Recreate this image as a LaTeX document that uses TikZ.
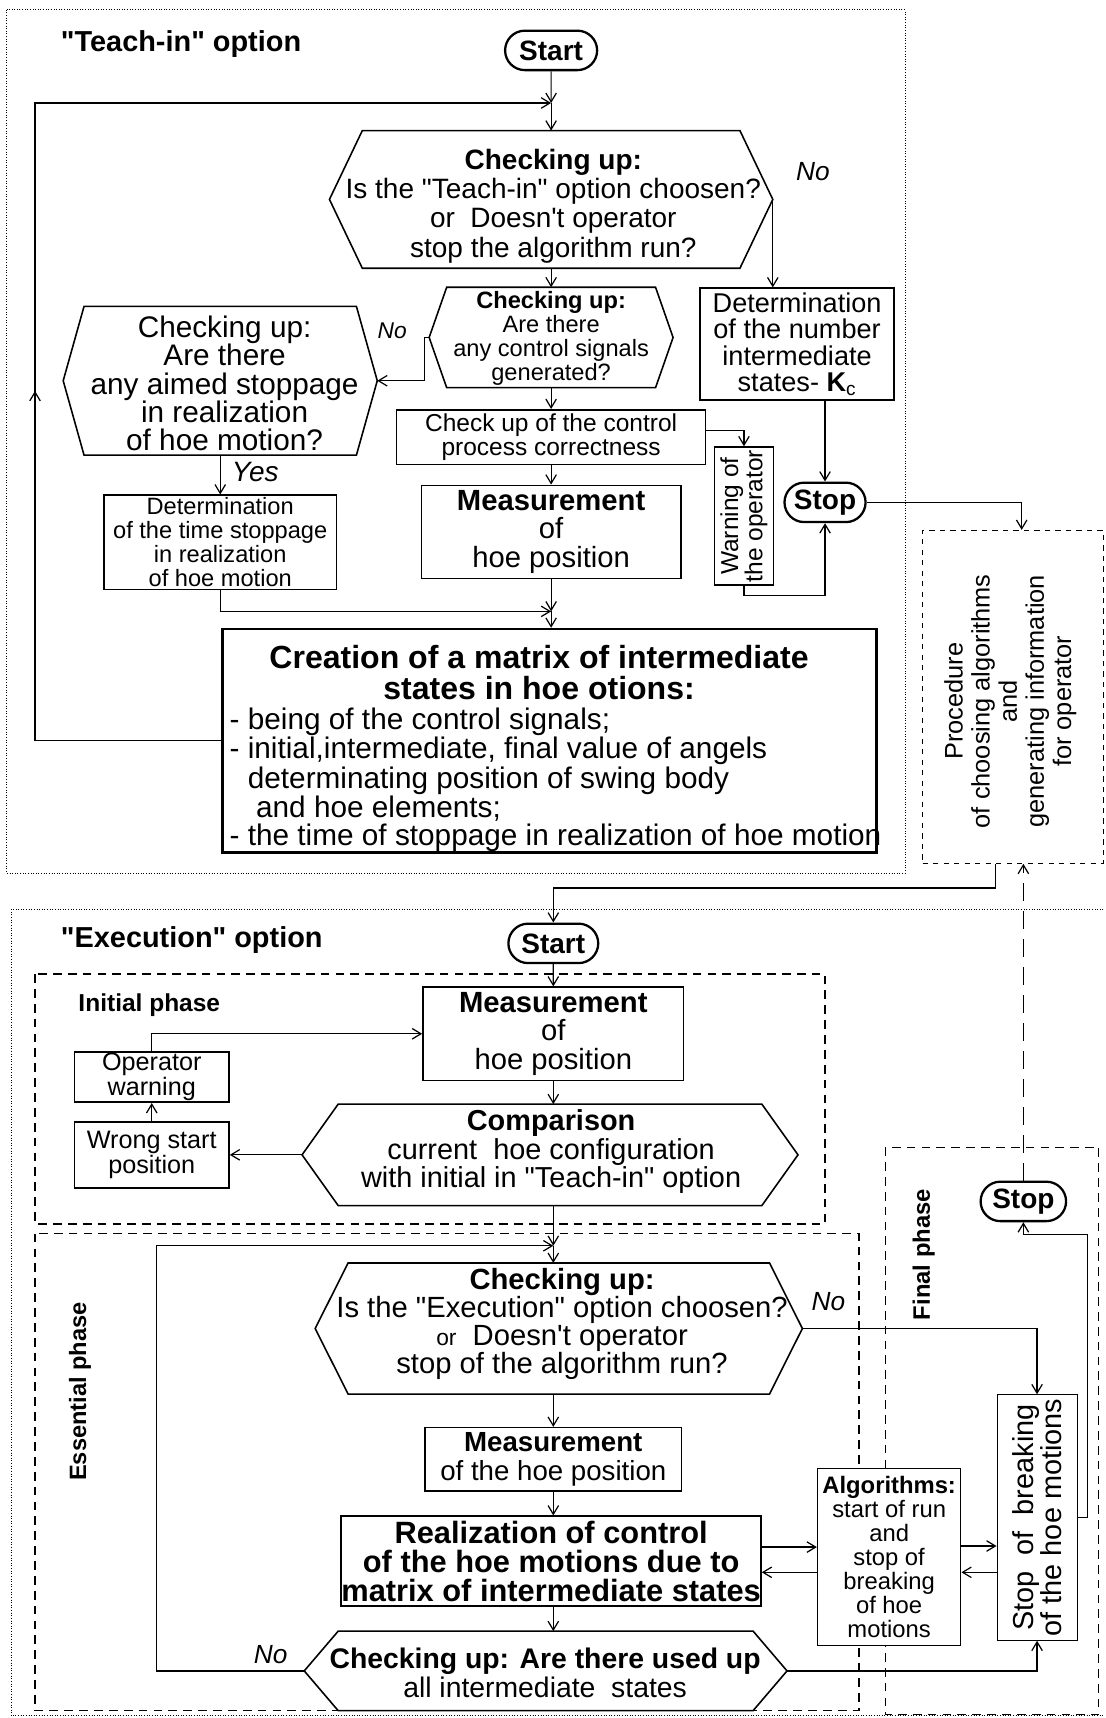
\documentclass[tikz,border=0pt]{standalone}
\usepackage{fontspec}
\setmainfont{Liberation Sans}
\usetikzlibrary{calc,arrows.meta,shapes.misc,decorations.markings}

\newcommand{\qq}{\textquotedbl}
\newcommand{\ap}{\textquotesingle}
% hexagon around a (text-less) frame node: #1 node, #2 tip length
\newcommand{\hexframe}[2]{%
  \draw[hexline] (#1.north west) -- (#1.north east) -- ($(#1.east)+(#2,0)$) coordinate (#1-r)
    -- (#1.south east) -- (#1.south west) -- ($(#1.west)+(-#2,0)$) coordinate (#1-l) -- cycle;}

\tikzset{
  box/.style 2 args={draw, line width=0.9pt, rectangle, inner sep=0pt, align=center,
    minimum width=#1*0.022cm, minimum height=#2*0.022cm},
  hexnode/.style 2 args={inner sep=0pt, minimum width=#1*0.022cm, minimum height=#2*0.022cm},
  hexline/.style={line width=0.9pt},
  term/.style={draw, rounded rectangle, line width=1.3pt, inner sep=0pt,
    font=\fontsize{16}{18}\selectfont\bfseries, minimum width=#1*0.022cm, minimum height=36*0.022cm},
  fs/.style 2 args={font=\fontsize{#1}{#2}\selectfont},
  lbl/.style={font=\fontsize{#1}{#1}\selectfont\itshape},
  flow/.style={line width=0.7pt, ->},
  midarrow/.style={postaction={decorate}, decoration={markings, mark=at position #1 with {\arrow{>}}}},
  phase/.style={line width=0.8pt, dash pattern=on 5pt off 3.5pt},
  option/.style={line width=0.5pt, densely dotted},
  longdash/.style={dash pattern=on 10pt off 6pt},
}

\begin{document}
\begin{tikzpicture}[x=0.022cm, y=-0.022cm, >={Straight Barb[length=5pt,width=6pt]}]
\useasboundingbox (0,0) rectangle (1009,1568);

% "Teach-in" option
\draw[option] (6,9) rectangle (826,797);
\node[fs={16.5}{18}, anchor=west] (titA) at (50,40) {\bfseries \qq Teach-in\qq\ option};
\node[term=84] (startA) at (503,46) {Start};
\coordinate (jA) at (503,94);

\node[hexnode={344}{125}] (h1) at (503,182) {};
\hexframe{h1}{30}
\node[fs={16}{16.7}, align=center] (h1t) at (505,188)
  {\textbf{Checking up:}\\Is the \qq Teach-in\qq\ option choosen?\\or\ \ Doesn\ap t operator\\stop the algorithm run?};
\node[lbl=15] (noA) at (742,157) {No};

\node[hexnode={190}{91}] (h2) at (503,308) {};
\hexframe{h2}{16}
\node[fs={13.5}{13.8}, align=center] (h2t) at (503,309)
  {\textbf{Checking up:}\\Are there\\any control signals\\generated?};
\node[lbl=13] (noB) at (358,302) {No};

\node[hexnode={248}{135}] (h3) at (201,347.5) {};
\hexframe{h3}{19}
\node[fs={17}{16.2}, align=center] (h3t) at (205,350)
  {Checking up:\\Are there\\any aimed stoppage\\in realization\\of hoe motion?};
\node[lbl=16] (yesA) at (233,431) {Yes};

\node[box={212}{86}, fs={13.5}{13.7}] (detL) at (201,495)
  {Determination\\of the time stoppage\\in realization\\of hoe motion};
\node[box={282}{50}, fs={14}{14.2}] (chk) at (503,399) {Check up of the control\\process correctness};
\node[box={237}{85}, fs={16.7}{16.3}] (measA) at (503,485.5) {\textbf{Measurement}\\of\\hoe position};
\node[box={177}{102}, fs={15.5}{15}] (kc) at (727.5,314)
  {Determination\\of the number\\intermediate\\states- \textbf{K}\textsubscript{c}};
\node[box={54}{126}] (warn) at (679,471) {};
\node[rotate=90, fs={14}{13.8}, align=center] (warnT) at (warn) {Warning of\\the operator};
\node[term=74] (stopA) at (753,458.5) {Stop};
\coordinate (jB) at (503,558);

\node[box={597}{204}, line width=1.3pt] (creat) at (501.5,676) {};
\node[fs={18.3}{17.5}, align=center] (creatT) at (492,614)
  {\bfseries Creation of a matrix of intermediate\\\bfseries states in hoe otions:};
\node[fs={17}{15.8}, align=left, anchor=west] (creatL) at (204,711.5)
  {- being of the control signals;\\- initial,intermediate, final value of angels\\\phantom{- }determinating position of swing body\\\phantom{- } and hoe elements;\\- the time of stoppage in realization of hoe motion};

\node[box={165}{304}, line width=0.5pt, dashed] (proc) at (924.5,636) {};
\node[rotate=90, fs={14.5}{15.5}, align=center] (procT) at (922,640)
  {Procedure\\of choosing algorithms\\and\\generating information\\for operator};

\draw[flow] (startA) -- (jA);
\draw[flow] (jA) -- (h1.north);
\draw[flow, midarrow=0.4] (creat.west) -- ++(-170,0) |- (jA);
\draw[flow] (h1.south) -- (h2.north);
\draw[flow] (h1-r) -- (h1-r |- kc.north);
\draw[flow] (h2-l) -- ++(-4,0) |- (h3-r);
\draw[flow] (h3.south) -- (detL.north);
\draw[flow] (detL.south) |- (jB);
\draw[flow] (h2.south) -- (chk.north);
\draw[flow] (chk.south) -- (measA.north);
\draw[flow] (measA.south) -- (jB);
\draw[flow] (jB) -- (jB |- creat.north);
\draw[flow] (chk.east |- 0,393) -| (warn.north);
\draw[flow] (stopA.north |- kc.south) -- (stopA.north);
\draw[flow] (warn.south) -- ++(0,9) -| (stopA.south);
\draw[flow] (stopA.east) -| ($(proc.north)+(8,0)$);

% "Execution" option
\draw[option] (1007,830) -- (10,830) -- (10,1566) -- (1007,1566);
\node[fs={16.5}{18}, anchor=west] (titB) at (50,858) {\bfseries \qq Execution\qq\ option};
\node[term=82] (startB) at (505,861) {Start};
\draw[flow] ($(proc.south)+(-16,0)$) -- ++(0,22) -| (startB.north);

\draw[phase] (32,889) rectangle (753,1117);
\node[fs={14}{14}, anchor=west] (iniT) at (66,917) {\bfseries Initial phase};
\node[box={238}{85}, fs={16.7}{16.3}] (measB) at (505,943.5) {\textbf{Measurement}\\of\\hoe position};
\node[hexnode={386}{92}] (cmp) at (502,1054) {};
\hexframe{cmp}{33}
\node[fs={16.5}{16.3}, align=center] (cmpT) at (503,1051)
  {\textbf{Comparison}\\current\ \ hoe configuration\\with initial in \qq Teach-in\qq\ option};
\node[box={141}{60}, fs={14.4}{14}] (wrong) at (138.5,1054) {Wrong start\\position};
\node[box={141}{46}, fs={14.4}{14}] (opw) at (138.5,983) {Operator\\warning};

\draw[flow] (startB) -- (measB);
\draw[flow] (measB.south) -- (measB.south |- cmp.north);
\draw[flow] (cmp-l) -- (wrong.east);
\draw[flow] (wrong) -- (opw);
\draw[flow] (opw.north) |- (measB.west);

\draw[phase] (32,1126) rectangle (784,1561);
\node[rotate=90, fs={13.5}{14}] (essT) at (73,1270) {\bfseries Essential phase};
\draw[phase, line width=0.6pt] (808,1047) rectangle (1003,1565);
\node[rotate=90, fs={13.6}{14}] (finT) at (843,1145) {\bfseries Final phase};
\coordinate (jC) at (505,1137);

\node[hexnode={384}{119}] (h4) at (510,1212.5) {};
\hexframe{h4}{30}
\node[fs={16.7}{16.1}, align=center] (h4t) at (513,1208.5)
  {\textbf{Checking up:}\\Is the \qq Execution\qq\ option choosen?\\{\fontsize{13}{13}\selectfont or}\ \ Doesn\ap t operator\\stop of the algorithm run?};
\node[lbl=15] (noC) at (756,1188) {No};
\node[box={234}{58}, fs={15.8}{16.3}] (measC) at (505,1332) {\textbf{Measurement}\\of the hoe position};
\node[box={370}{82}, fs={17.6}{16.6}, line width=1.1pt] (real) at (503,1425)
  {\bfseries Realization of control\\\bfseries of the hoe motions due to\\\bfseries matrix of intermediate states};
\node[hexnode={378}{72}] (h5) at (498,1525) {};
\hexframe{h5}{31}
\node[fs={16.2}{16.3}, align=center] (h5t) at (497.5,1527)
  {\textbf{Checking up: Are there used up}\\all intermediate\ \ states};
\node[lbl=15] (noD) at (247,1510) {No};
\node[box={131}{162}, fs={13.6}{13.8}, line width=0.6pt, fill=white] (alg) at (811.5,1421)
  {\textbf{Algorithms:}\\start of run\\and\\stop of\\breaking\\of hoe\\motions};
\node[box={73}{224}, line width=0.6pt] (sob) at (946.5,1385) {};
\node[rotate=90, fs={16.5}{15.7}, align=center] (sobT) at (sob) {Stop\ \ of\ \ breaking\\of the hoe motions};
\node[term=78] (stopB) at (934,1096.5) {Stop};

\draw[flow] (jC |- cmp.south) -- (jC);
\draw[flow] (jC) -- (jC |- h4.north);
\draw[flow] (h5-l) -- ++(-135,0) |- (jC);
\draw[flow] (h4-r) -| (sob.north);
\draw[flow] (jC |- h4.south) -- (measC);
\draw[flow] (measC.south) -- (measC.south |- real.north);
\draw[flow] (measC.south |- real.south) -- (measC.south |- h5.north);
\draw[flow] (h5-r) -| (sob.south);
\draw[flow] (real.east |- 0,1412) -- (alg.west |- 0,1412);
\draw[flow] (alg.west |- 0,1435) -- (real.east |- 0,1435);
\draw[flow] (alg.east |- 0,1411) -- (sob.west |- 0,1411);
\draw[flow] (sob.west |- 0,1435) -- (alg.east |- 0,1435);
\draw[flow] (sob.east) -- ++(9,0) -- ++(0,-258) -| (stopB.south);
\draw[flow, longdash] (stopB.north) -- (stopB.north |- proc.south);
\end{tikzpicture}
\end{document}
